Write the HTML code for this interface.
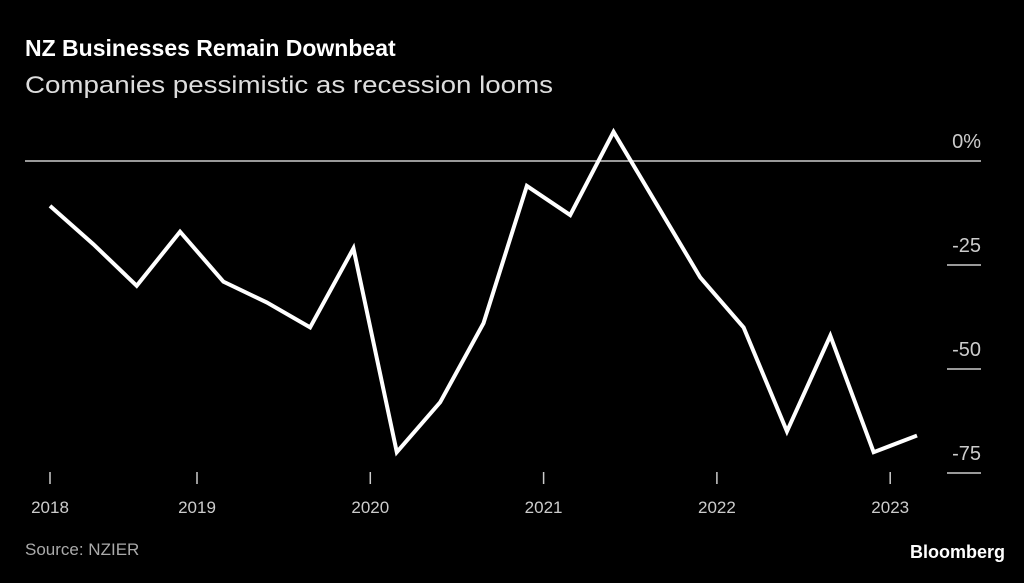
<!DOCTYPE html>
<html><head><meta charset="utf-8"><style>
body{margin:0;background:#000;width:1024px;height:578px;overflow:hidden;font-family:"Liberation Sans",sans-serif}
</style></head><body>
<svg width="1024" height="578">
<text x="25" y="56" fill="#fff" font-size="23" font-weight="bold">NZ Businesses Remain Downbeat</text>
<text x="25" y="93" fill="#ddd" font-size="24" textLength="528" lengthAdjust="spacingAndGlyphs">Companies pessimistic as recession looms</text>
<g id="grid"></g>
<g id="xax"></g>
<polyline id="line" fill="none" stroke="#fff" stroke-width="4" stroke-linejoin="miter"/>
<text x="25" y="555" fill="#aaa" font-size="17">Source: NZIER</text>
<text x="1005" y="558" fill="#fff" font-size="18" font-weight="bold" text-anchor="end">Bloomberg</text>
</svg>
<script>
const values=[-10.8,-20,-30,-17,-29,-34,-40,-21,-70,-58,-39,-6,-13,7,-10.5,-28,-40,-65,-42,-70,-66];
const yTicks=[0,-25,-50,-75];
const yTickLabels=["0%","-25","-50","-75"];
const years=[2018,2019,2020,2021,2022,2023];
const y=v=>161-v*(104/25);
const x=i=>50+i*43.35;
const xYear=yr=>yr===2018?50:197+(yr-2019)*173.3;
const ns="http://www.w3.org/2000/svg";
const g=document.getElementById('grid'),xa=document.getElementById('xax');
function mk(t,a,p){const e=document.createElementNS(ns,t);for(const k in a)e.setAttribute(k,a[k]);p.appendChild(e);return e;}
yTicks.forEach((v,i)=>{
 const l=mk('line',{x1:v===0?25:947,x2:981,y1:y(v),y2:y(v),stroke:'#ccc','stroke-width':1.5},g);
 
 
 const t=mk('text',{x:981,y:y(v)-13,fill:'#ccc','font-size':20,'text-anchor':'end'},g);
 t.textContent=yTickLabels[i];
 
 
});
years.forEach(yr=>{
 const xx=xYear(yr);
 const l=mk('line',{x1:xx,x2:xx,y1:472,y2:484,stroke:'#ccc','stroke-width':1.5},xa);
 
 
 const t=mk('text',{x:xx,y:513,fill:'#ccc','font-size':17,'text-anchor':'middle'},xa);
 t.textContent=yr;
 
 
});
document.getElementById('line').setAttribute('points',values.map((v,i)=>x(i)+','+y(v)).join(' '));
</script>
</body></html>
